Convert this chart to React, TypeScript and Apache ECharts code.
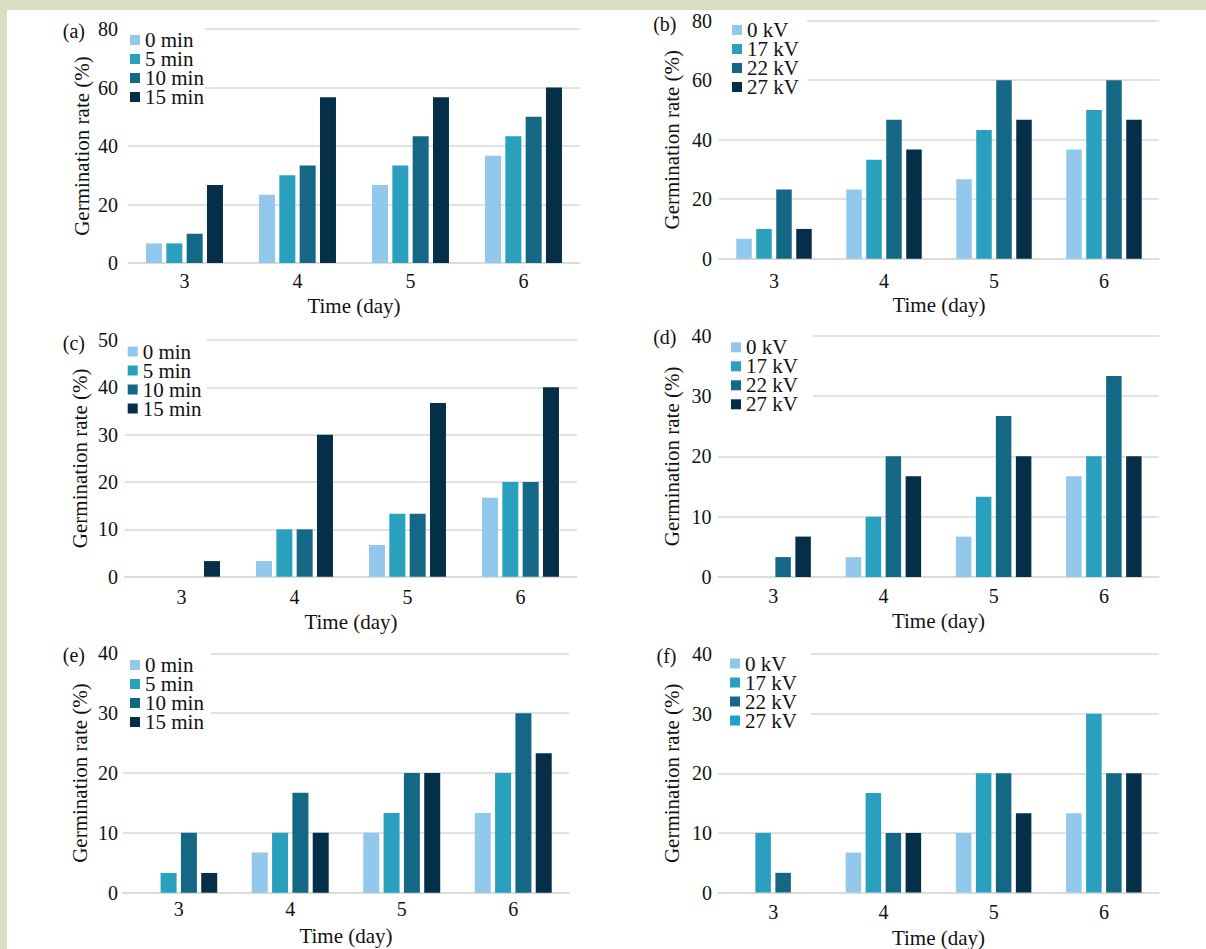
import React, { useEffect, useRef } from 'react';
import * as echarts from 'echarts';

const days = ['3', '4', '5', '6'];
const minLabels = ['0 min', '5 min', '10 min', '15 min'];
const kvLabels = ['0 kV', '17 kV', '22 kV', '27 kV'];

// rows: series (legend order), columns: days 3..6
const aVals = [
  [6.7, 23.3, 26.7, 36.7],
  [6.7, 30, 33.3, 43.3],
  [10, 33.3, 43.3, 50],
  [26.7, 56.7, 56.7, 60],
];
const bVals = [
  [6.7, 23.3, 26.7, 36.7],
  [10, 33.3, 43.3, 50],
  [23.3, 46.7, 60, 60],
  [10, 36.7, 46.7, 46.7],
];
const cVals = [
  [0, 3.3, 6.7, 16.7],
  [0, 10, 13.3, 20],
  [0, 10, 13.3, 20],
  [3.3, 30, 36.7, 40],
];
const dVals = [
  [0, 3.3, 6.7, 16.7],
  [0, 10, 13.3, 20],
  [3.3, 20, 26.7, 33.3],
  [6.7, 16.7, 20, 20],
];
const eVals = [
  [0, 6.7, 10, 13.3],
  [3.3, 10, 13.3, 20],
  [10, 16.7, 20, 30],
  [3.3, 10, 20, 23.3],
];
const fVals = [
  [0, 6.7, 10, 13.3],
  [10, 16.7, 20, 30],
  [3.3, 10, 20, 20],
  [0, 10, 13.3, 20],
];

const yMax = [80, 80, 50, 40, 40, 40];
const yInterval = [20, 20, 10, 10, 10, 10];
const panelTags = ['(a)', '(b)', '(c)', '(d)', '(e)', '(f)'];
const xName = 'Time (day)';
const yName = 'Germination rate (%)';

const seriesColors = ['#92c8eb', '#28a0be', '#156885', '#052f49'];
const fLegend27Color = '#1ca1d9';
const FONT = 'Liberation Serif';
const TXT = '#111';
const GRID_LINE = '#d9d9d9';

type Panel = {
  vals: number[][];
  labels: string[];
  grid: [number, number, number, number];
  xMargin: number;
  yMargin: number;
  xNameGap: number;
  yNameGap: number;
  barWidth: number;
  barGap: string;
  legend: { left: number; top: number; padding: number[] };
  tag: { x: number; y: number };
};

const panels: Panel[] = [
  {
    vals: aVals, labels: minLabels, grid: [128, 29, 452, 234],
    xMargin: 8, yMargin: 10, xNameGap: 32, yNameGap: 36, barWidth: 16, barGap: '27%',
    legend: { left: 127, top: 27, padding: [2.5, 1, 2, 3] }, tag: { x: 85, y: 31 },
  },
  {
    vals: bVals, labels: kvLabels, grid: [719, 20.7, 440, 238],
    xMargin: 12, yMargin: 7, xNameGap: 36, yNameGap: 36.5, barWidth: 15.5, barGap: '29%',
    legend: { left: 718, top: 18, padding: [1.5, 8, 2, 14] }, tag: { x: 676.5, y: 24 },
  },
  {
    vals: cVals, labels: minLabels, grid: [125, 340, 452, 236.7],
    xMargin: 10, yMargin: 7, xNameGap: 35, yNameGap: 34.5, barWidth: 16, barGap: '27%',
    legend: { left: 124, top: 338, padding: [3, 5, 2, 3.7] }, tag: { x: 85, y: 342.7 },
  },
  {
    vals: dVals, labels: kvLabels, grid: [718, 335.7, 441, 241.3],
    xMargin: 9, yMargin: 6.5, xNameGap: 33.5, yNameGap: 36, barWidth: 15.5, barGap: '29%',
    legend: { left: 717, top: 334, padding: [2.8, 15, 2, 14] }, tag: { x: 676.5, y: 336.7 },
  },
  {
    vals: eVals, labels: minLabels, grid: [123, 653.3, 446, 239.4],
    xMargin: 6, yMargin: 5, xNameGap: 33, yNameGap: 32.5, barWidth: 16, barGap: '27%',
    legend: { left: 122, top: 652, padding: [2.5, 7, 2, 8] }, tag: { x: 85, y: 655 },
  },
  {
    vals: fVals, labels: kvLabels, grid: [718, 654, 441, 241],
    xMargin: 9, yMargin: 6, xNameGap: 34.5, yNameGap: 36, barWidth: 15.5, barGap: '29%',
    legend: { left: 717, top: 652, padding: [1, 14, 2, 13] }, tag: { x: 676.5, y: 656 },
  },
];

export default function App() {
  const ref = useRef<HTMLDivElement>(null);

  useEffect(() => {
    if (!ref.current) return;
    const chart = echarts.init(ref.current, undefined, { renderer: 'svg' });

    const grid: any[] = [];
    const xAxis: any[] = [];
    const yAxis: any[] = [];
    const legend: any[] = [];
    const series: any[] = [];
    const graphic: any[] = [];

    panels.forEach((p, i) => {
      const [left, top, width, height] = p.grid;
      grid.push({ left, top, width, height, containLabel: false });
      xAxis.push({
        type: 'category',
        gridIndex: i,
        data: days,
        axisLine: { show: true, lineStyle: { color: GRID_LINE, width: 1.5 } },
        axisTick: { show: false },
        axisLabel: { margin: p.xMargin, fontSize: 20, color: TXT, fontFamily: FONT },
        name: xName,
        nameLocation: 'middle',
        nameGap: p.xNameGap,
        nameTextStyle: { fontSize: 21, color: TXT, fontFamily: FONT },
      });
      yAxis.push({
        type: 'value',
        gridIndex: i,
        min: 0,
        max: yMax[i],
        interval: yInterval[i],
        axisLine: { show: false },
        axisTick: { show: false },
        splitLine: { show: true, lineStyle: { color: GRID_LINE, width: 1.5 } },
        axisLabel: { margin: p.yMargin, fontSize: 20, color: TXT, fontFamily: FONT },
        name: yName,
        nameLocation: 'middle',
        nameGap: p.yNameGap,
        nameTextStyle: { fontSize: 21, color: TXT, fontFamily: FONT },
      });
      p.labels.forEach((lab, j) => {
        series.push({
          type: 'bar',
          name: lab,
          xAxisIndex: i,
          yAxisIndex: i,
          data: p.vals[j],
          barWidth: p.barWidth,
          barGap: p.barGap,
          itemStyle: { color: seriesColors[j] },
        });
      });
      legend.push({
        orient: 'vertical',
        left: p.legend.left,
        top: p.legend.top,
        padding: p.legend.padding,
        itemGap: -2,
        itemWidth: 10,
        itemHeight: 10,
        icon: 'rect',
        backgroundColor: '#ffffff',
        selectedMode: false,
        data: p.labels.map((lab, j) => ({
          name: lab,
          itemStyle: { color: i === 5 && j === 3 ? fLegend27Color : seriesColors[j] },
        })),
        textStyle: { fontSize: 21, color: TXT, fontFamily: FONT },
      });
      graphic.push({
        type: 'text',
        x: p.tag.x,
        y: p.tag.y,
        style: {
          text: panelTags[i],
          fontSize: 20,
          fontFamily: FONT,
          fill: TXT,
          textAlign: 'right',
          textVerticalAlign: 'middle',
        },
      });
    });

    chart.setOption({
      animation: false,
      backgroundColor: 'transparent',
      textStyle: { fontFamily: FONT },
      grid,
      xAxis,
      yAxis,
      legend,
      series,
      graphic,
    });

    return () => chart.dispose();
  }, []);

  return (
    <div style={{ position: 'absolute', left: 0, top: 0, width: 1206, height: 949, background: '#d9dfc3', overflow: 'hidden' }}>
      <div style={{ position: 'absolute', left: 7, top: 10, right: 0, bottom: 0, background: '#ffffff' }} />
      <div ref={ref} style={{ position: 'absolute', left: 0, top: 0, width: 1206, height: 949 }} />
    </div>
  );
}
